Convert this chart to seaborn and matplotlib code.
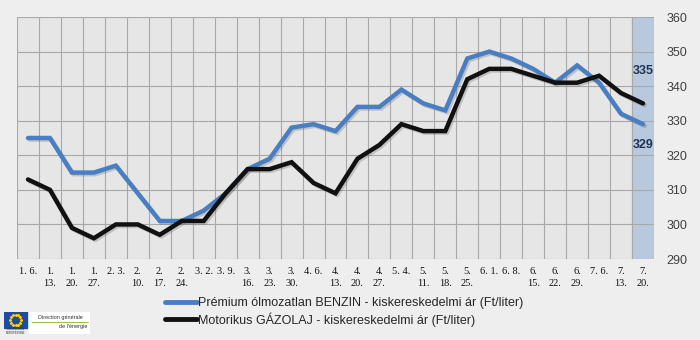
import matplotlib
matplotlib.use("Agg")
import matplotlib.pyplot as plt
import matplotlib.patheffects as pe
from matplotlib.lines import Line2D
from matplotlib.patches import Rectangle
import numpy as np
import pandas as pd
import seaborn as sns

# Weekly dates (month. day.)
dates = ["1. 6.", "1. 13.", "1. 20.", "1. 27.", "2. 3.", "2. 10.", "2. 17.", "2. 24.",
         "3. 2.", "3. 9.", "3. 16.", "3. 23.", "3. 30.", "4. 6.", "4. 13.", "4. 20.",
         "4. 27.", "5. 4.", "5. 11.", "5. 18.", "5. 25.", "6. 1.", "6. 8.", "6. 15.",
         "6. 22.", "6. 29.", "7. 6.", "7. 13.", "7. 20."]
tick_labels = ["1. 6.", "1.\n13.", "1.\n20.", "1.\n27.", "2. 3.", "2.\n10.", "2.\n17.", "2.\n24.",
               "3. 2.", "3. 9.", "3.\n16.", "3.\n23.", "3.\n30.", "4. 6.", "4.\n13.", "4.\n20.",
               "4.\n27.", "5. 4.", "5.\n11.", "5.\n18.", "5.\n25.", "6. 1.", "6. 8.", "6.\n15.",
               "6.\n22.", "6.\n29.", "7. 6.", "7.\n13.", "7.\n20."]

benzin = [325, 325, 315, 315, 317, 309, 301, 301, 304, 309, 316, 319, 328, 329, 327,
          334, 334, 339, 335, 333, 348, 350, 348, 345, 341, 346, 341, 332, 329]
gazolaj = [313, 310, 299, 296, 300, 300, 297, 301, 301, 309, 316, 316, 318, 312, 309,
           319, 323, 329, 327, 327, 342, 345, 345, 343, 341, 341, 343, 338, 335]

name_b = "Prémium ólmozatlan BENZIN - kiskereskedelmi ár (Ft/liter)"
name_g = "Motorikus GÁZOLAJ - kiskereskedelmi ár (Ft/liter)"
yticks = [290, 300, 310, 320, 330, 340, 350, 360]

df = pd.DataFrame({
    "pos": list(range(len(dates))) * 2,
    "datum": dates * 2,
    "ar": benzin + gazolaj,
    "sorozat": [name_b] * len(dates) + [name_g] * len(dates),
})

sns.set_theme(style="white")
plt.rcParams["font.family"] = ["Liberation Sans", "DejaVu Sans"]

fig = plt.figure(figsize=(7, 3.4), dpi=100, facecolor="#eeeeee")
ax = fig.add_axes([17 / 700, 1 - 259 / 340, 637 / 700, 242 / 340])
ax.set_facecolor("#e6e6e6")

blue = "#4a7ec2"
black = "#111111"
sns.lineplot(data=df, x="pos", y="ar", hue="sorozat", palette=[blue, black],
             linewidth=3.2, ax=ax, legend=False, sort=False)
for ln in ax.get_lines():
    ln.set_path_effects([pe.SimpleLineShadow(offset=(1.2, -1.2), alpha=0.25, shadow_color="#555555"),
                         pe.Normal()])
    ln.set_solid_joinstyle("miter")

n = len(dates)
ax.set_xlim(-0.5, n - 0.5)
ax.set_ylim(290, 360)

# highlighted last week
ax.axvspan(n - 1.5, n - 0.5, color="#b8c9de", zorder=0.5)

# grid
ax.set_xticks(np.arange(n))
ax.set_xticklabels(tick_labels, fontsize=7.5, family=["Liberation Serif"], va="top",
                   linespacing=1.35, color="#111111")
ax.set_xticks(np.arange(-0.5, n, 1), minor=True)
ax.tick_params(axis="x", which="major", length=0, pad=6)
ax.tick_params(axis="x", which="minor", length=4, width=0.8, color="#a8a8a8", direction="out")
ax.grid(True, which="minor", axis="x", color="#a8a8a8", linewidth=0.8)
ax.set_yticks(yticks)
ax.yaxis.tick_right()
ax.tick_params(axis="y", length=0, labelsize=9, labelcolor="#404040", pad=9)
ax.grid(True, which="major", axis="y", color="#a8a8a8", linewidth=0.8)
ax.set_axisbelow(True)
for s in ax.spines.values():
    s.set_visible(False)
ax.set_xlabel("")
ax.set_ylabel("")

# end-of-series values
ax.annotate(f"{gazolaj[-1]}", (n - 1, gazolaj[-1]), xytext=(0, 23), textcoords="offset points",
            ha="center", va="center", fontsize=9, color="#1f3452", fontweight="bold")
ax.annotate(f"{benzin[-1]}", (n - 1, benzin[-1]), xytext=(0, -15), textcoords="offset points",
            ha="center", va="center", fontsize=9, color="#1f3452", fontweight="bold")

# legend
handles = [Line2D([], [], color=blue, linewidth=3.5), Line2D([], [], color=black, linewidth=3.5)]
fig.legend(handles, [name_b, name_g], loc="upper left", bbox_to_anchor=(165 / 700, 1 - 297 / 340),
           frameon=False, fontsize=9, handlelength=2.55, handletextpad=0.08,
           labelspacing=0.25, borderpad=0, borderaxespad=0)

# logo block
lax = fig.add_axes([4 / 700, 1 - 334 / 340, 86 / 700, 22 / 340])
lax.set_xlim(0, 86)
lax.set_ylim(0, 22)
lax.axis("off")
lax.add_patch(Rectangle((0, 6), 23, 16, color="#1f4c9c"))
theta = np.linspace(0, 2 * np.pi, 13)[:-1]
lax.scatter(11.5 + 5.2 * np.cos(theta), 14 + 5.2 * np.sin(theta), s=1.5, color="#f5d300", marker="*")
lax.text(11.5, 2.8, "COMMISSION\nEUROPÉENNE", fontsize=2.0, ha="center", va="center", color="#333333")
lax.add_patch(Rectangle((25, 0), 61, 22, color="white"))
lax.text(56, 16, "Direction générale", fontsize=4, ha="center", va="center", color="#333333")
lax.plot([28, 84], [12, 12], color="#8cc63f", linewidth=0.7)
lax.text(83, 7.5, "de l'énergie", fontsize=4, ha="right", va="center", color="#333333")

fig.savefig("out.png", dpi=100, facecolor=fig.get_facecolor())
